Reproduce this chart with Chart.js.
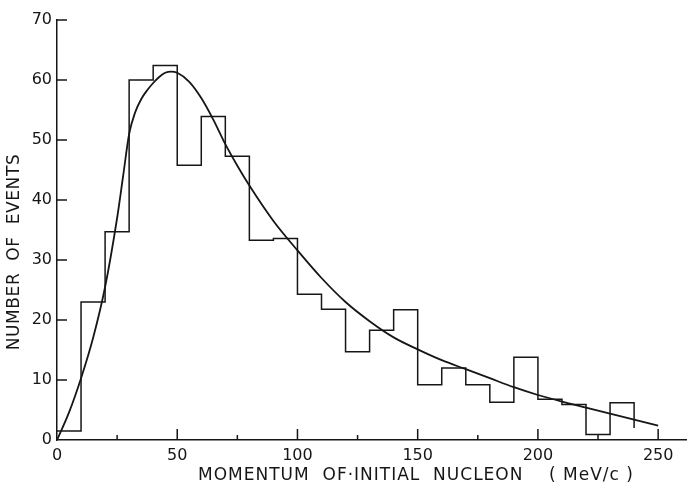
<!DOCTYPE html>
<html>
<head>
<meta charset="utf-8">
<script src="https://cdn.jsdelivr.net/npm/chart.js@4.4.0/dist/chart.umd.min.js"></script>
<style>
  html, body { margin: 0; padding: 0; background: #fff; }
  #wrap { width: 687px; height: 485px; }
</style>
</head>
<body>
<div id="wrap"><canvas id="momChart"></canvas></div>
<script>
// histogram: left edges of the 10 MeV/c bins and the counts in each
const binEdges = [0, 10, 20, 30, 40, 50, 60, 70, 80, 90, 100, 110, 120, 130, 140, 150, 160, 170, 180, 190, 200, 210, 220, 230, 240];
const counts = [1.5, 23, 34.7, 60, 62.4, 45.8, 53.9, 47.3, 33.3, 33.6, 24.3, 21.8, 14.7, 18.3, 21.7, 9.2, 12, 9.2, 6.3, 13.8, 6.8, 5.9, 0.9, 6.2, 2];

// fitted curve
const curveX = [0, 5, 10, 15, 20, 25, 27.5, 30, 32.5, 35, 37.5, 40, 42.5, 45, 47.5, 50, 55, 60, 65, 70, 75, 80, 90, 100, 110, 120, 130, 140, 150, 160, 170, 180, 190, 200, 210, 220, 230, 240, 250];
const curveY = [0, 4.6, 10.3, 17, 25.5, 37, 44, 51, 54.6, 56.8, 58.3, 59.5, 60.5, 61.2, 61.4, 61.2, 59.7, 57, 53.4, 49.3, 45.7, 42.4, 36.5, 31.6, 27, 23, 19.8, 17.1, 15.1, 13.3, 11.8, 10.3, 8.8, 7.5, 6.4, 5.4, 4.4, 3.4, 2.4];

const xTicks = [0, 50, 100, 150, 200, 250];
const xMinorTicks = [25, 75, 125, 175, 225];
const yTicks = [0, 10, 20, 30, 40, 50, 60, 70];

const ink = '#161616';
const font = '"DejaVu Sans", sans-serif';

// tick marks point into the plot, like the printed figure
const inwardTicks = {
  id: 'inwardTicks',
  afterDatasetsDraw(chart) {
    const { ctx, scales: { x, y } } = chart;
    ctx.save();
    ctx.strokeStyle = ink;
    ctx.lineWidth = 1.5;
    ctx.beginPath();
    xTicks.concat(xMinorTicks).forEach(v => {
      if (v === 0) return;
      const px = x.getPixelForValue(v);
      const len = v % 50 === 0 ? 11 : 5;
      ctx.moveTo(px, y.bottom);
      ctx.lineTo(px, y.bottom - len);
    });
    yTicks.forEach(v => {
      if (v === 0) return;
      const py = y.getPixelForValue(v);
      ctx.moveTo(x.left, py);
      ctx.lineTo(x.left + 10, py);
    });
    ctx.stroke();

    // axis titles
    ctx.fillStyle = ink;
    ctx.font = '17px ' + font;
    ctx.letterSpacing = '1px';
    ctx.textAlign = 'center';
    ctx.textBaseline = 'middle';
    ctx.fillText('MOMENTUM  OF\u00b7INITIAL  NUCLEON    ( MeV/c )', 416, 476);
    ctx.letterSpacing = '0.6px';
    ctx.translate(15, 252);
    ctx.rotate(-Math.PI / 2);
    ctx.fillText('NUMBER  OF  EVENTS', 0, 0);
    ctx.restore();
  }
};

const ctx = document.getElementById('momChart').getContext('2d');
new Chart(ctx, {
  type: 'line',
  data: {
    datasets: [{
      label: 'Events',
      data: binEdges.map((e, i) => ({ x: e, y: counts[i] })),
      stepped: true,
      borderColor: ink,
      borderWidth: 1.5,
      pointRadius: 0,
      fill: false
    }, {
      label: 'Fit',
      data: curveX.map((v, i) => ({ x: v, y: curveY[i] })),
      cubicInterpolationMode: 'monotone',
      borderColor: ink,
      borderWidth: 1.8,
      pointRadius: 0,
      fill: false
    }]
  },
  options: {
    responsive: true,
    maintainAspectRatio: false,
    animation: false,
    layout: { padding: { top: 20, right: 0, left: 0, bottom: 0 } },
    plugins: {
      legend: { display: false },
      tooltip: { enabled: false }
    },
    scales: {
      x: {
        type: 'linear',
        min: 0,
        max: 262,
        afterBuildTicks: s => { s.ticks = xTicks.map(v => ({ value: v })); },
        afterFit: s => { s.height = 45; },
        grid: { drawOnChartArea: false, drawTicks: false },
        border: { color: ink, width: 1.5 },
        ticks: { color: ink, font: { family: font, size: 16 }, padding: 6, maxRotation: 0 }
      },
      y: {
        min: 0,
        max: 70,
        afterBuildTicks: s => { s.ticks = yTicks.map(v => ({ value: v })); },
        afterFit: s => { s.width = 57; },
        grid: { drawOnChartArea: false, drawTicks: false },
        border: { color: ink, width: 1.5 },
        ticks: { color: ink, font: { family: font, size: 16 }, padding: 5 }
      }
    }
  },
  plugins: [inwardTicks]
});
</script>
</body>
</html>
